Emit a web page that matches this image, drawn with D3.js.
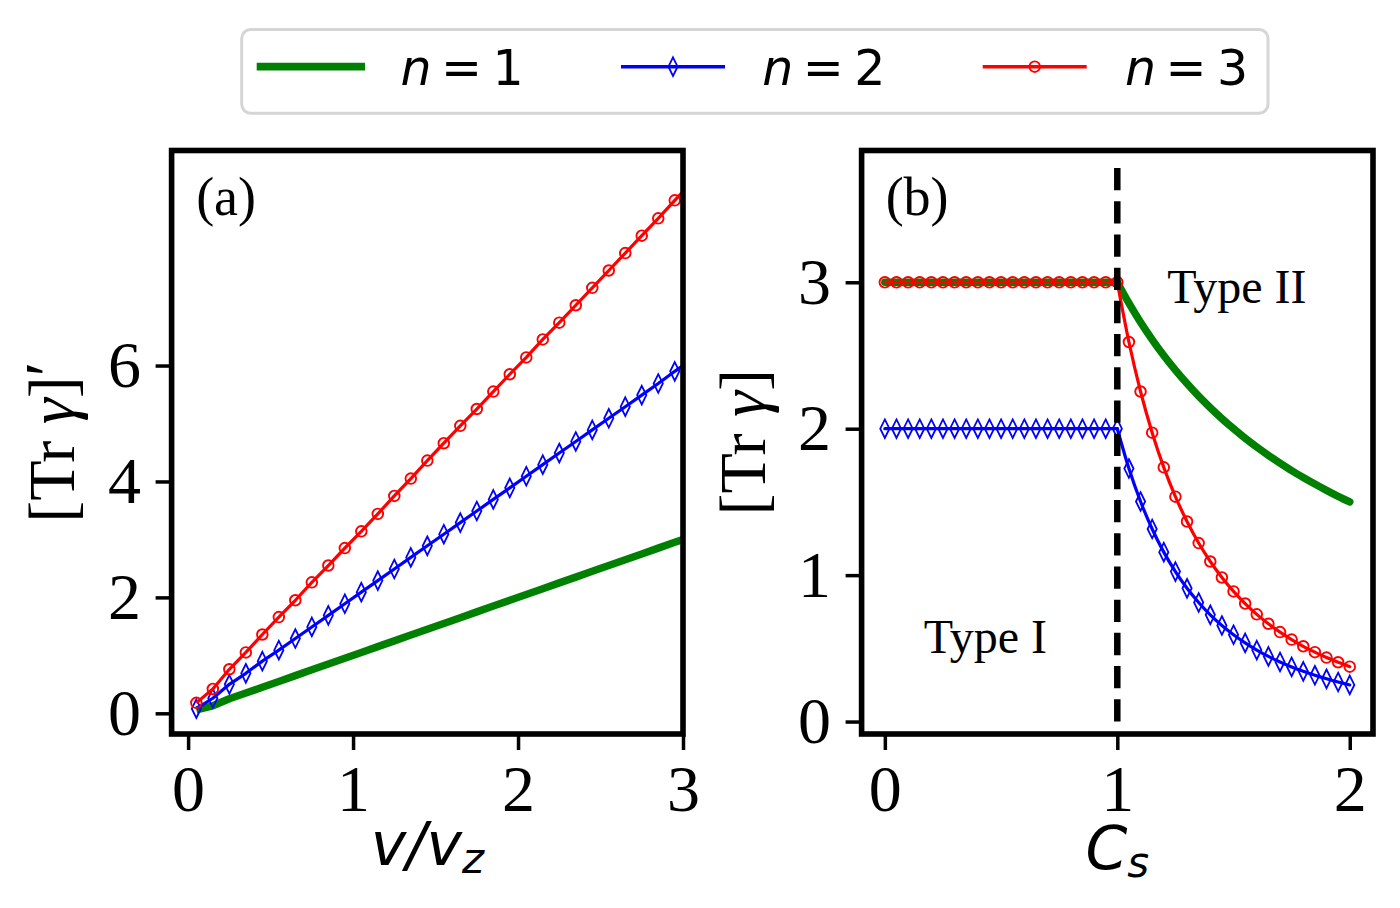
<!DOCTYPE html>
<html>
<head>
<meta charset="utf-8">
<script src="https://cdn.jsdelivr.net/npm/d3@7"></script>
<style>
  html, body { margin: 0; padding: 0; background: #ffffff; }
  svg { display: block; }
</style>
</head>
<body>
<svg id="chart" width="1400" height="908"></svg>
<script>
// ---------- data ----------
// panel (a): v/v_z (markers on all but the last point)
const vA = [0.05,0.15,0.25,0.35,0.45,0.55,0.65,0.75,0.85,0.95,1.05,1.15,1.25,1.35,1.45,1.55,1.65,1.75,1.85,1.95,2.05,2.15,2.25,2.35,2.45,2.55,2.65,2.75,2.85,2.95,3.0];
const greenA = [0.06,0.13,0.25,0.35,0.45,0.55,0.65,0.75,0.85,0.95,1.05,1.15,1.25,1.35,1.45,1.55,1.65,1.75,1.85,1.95,2.05,2.15,2.25,2.35,2.45,2.55,2.65,2.75,2.85,2.95,3.0];
const blueA  = [0.08,0.26,0.50,0.69,0.90,1.09,1.29,1.49,1.69,1.89,2.09,2.29,2.49,2.69,2.89,3.09,3.29,3.49,3.69,3.89,4.09,4.29,4.49,4.69,4.89,5.09,5.29,5.49,5.69,5.90,6.0];
const redA   = [0.18,0.42,0.76,1.05,1.36,1.66,1.95,2.26,2.55,2.85,3.14,3.44,3.75,4.05,4.36,4.66,4.96,5.25,5.55,5.85,6.14,6.45,6.74,7.04,7.34,7.64,7.94,8.24,8.54,8.85,9.0];

// panel (b): C_s
const csB = [0,0.05,0.1,0.15,0.2,0.25,0.3,0.35,0.4,0.45,0.5,0.55,0.6,0.65,0.7,0.75,0.8,0.85,0.9,0.95,1.0,
             1.05,1.1,1.15,1.2,1.25,1.3,1.35,1.4,1.45,1.5,1.55,1.6,1.65,1.7,1.75,1.8,1.85,1.9,1.95,2.0];
const greenB = [3,3,3,3,3,3,3,3,3,3,3,3,3,3,3,3,3,3,3,3,3,
                2.857,2.727,2.609,2.500,2.400,2.308,2.222,2.143,2.069,2.000,1.935,1.875,1.818,1.765,1.714,1.667,1.622,1.579,1.538,1.500];
const blueB  = [2,2,2,2,2,2,2,2,2,2,2,2,2,2,2,2,2,2,2,2,2,
                1.728,1.503,1.315,1.157,1.024,0.910,0.813,0.729,0.656,0.593,0.537,0.488,0.445,0.407,0.373,0.343,0.316,0.292,0.270,0.250];
const redB   = [3,3,3,3,3,3,3,3,3,3,3,3,3,3,3,3,3,3,3,3,3,
                2.592,2.254,1.973,1.736,1.536,1.366,1.219,1.093,0.984,0.889,0.806,0.732,0.668,0.611,0.560,0.514,0.474,0.437,0.405,0.375];
const transitionB = 1.0;
const vlineB = [[1, 3.78], [1, 0]];

const ticksAx = [0, 1, 2, 3];
const ticksAy = [0, 2, 4, 6];
const ticksBx = [0, 1, 2];
const ticksBy = [0, 1, 2, 3];

const legendLabels = ["1", "2", "3"];

// ---------- layout ----------
const svg = d3.select("#chart");
const GREEN = "#008000", BLUE = "#0000ff", RED = "#ff0000";
const serif = "'Liberation Serif', 'Times New Roman', serif";
const sans = "'DejaVu Sans', sans-serif";

const frameTop = 150.5, frameBot = 734;
const panelA = { x0: 171.6, x1: 683 };
const panelB = { x0: 861.6, x1: 1373 };

const xA = d3.scaleLinear().domain([-0.1, 3.0]).range([panelA.x0, panelA.x1]);
const yA = d3.scaleLinear().domain([-0.357, 9.71]).range([frameBot, frameTop]);
const xB = d3.scaleLinear().domain([-0.1, 2.1]).range([panelB.x0, panelB.x1]);
const yB = d3.scaleLinear().domain([-0.085, 3.9]).range([frameBot, frameTop]);

const defs = svg.append("defs");
function clip(id, p) {
  defs.append("clipPath").attr("id", id).append("rect")
    .attr("x", p.x0).attr("y", frameTop).attr("width", p.x1 - p.x0).attr("height", frameBot - frameTop);
}
clip("clipA", panelA); clip("clipB", panelB);

function diamondPath(cx, cy) {
  const h = 9.3, w = 4.6;
  return `M${cx},${cy - h}L${cx + w},${cy}L${cx},${cy + h}L${cx - w},${cy}Z`;
}

// split: optional x value where the curve has a corner (pieces are smoothed separately)
function drawSeries(g, xs, ys, x, y, opt) {
  const pts = xs.map((v, i) => [v, ys[i]]);
  const line = d3.line().x(d => x(d[0])).y(d => y(d[1]))
    .curve(opt.smooth ? d3.curveMonotoneX : d3.curveLinear);
  const pieces = (opt.split !== undefined)
    ? [pts.filter(d => d[0] <= opt.split), pts.filter(d => d[0] >= opt.split)]
    : [pts];
  const lg = g.append("g");
  pieces.forEach(pc => {
    lg.append("path").datum(pc).attr("d", line)
      .attr("fill", "none").attr("stroke", opt.color).attr("stroke-width", opt.width)
      .attr("stroke-linejoin", "round").attr("stroke-linecap", pieces.length > 1 ? "round" : "butt");
  });
  if (!opt.marker) return;
  const mpts = pts.filter((d, i) => i < opt.nMarkers);
  if (opt.marker === "circle") {
    g.selectAll(null).data(mpts).enter().append("circle")
      .attr("cx", d => x(d[0])).attr("cy", d => y(d[1])).attr("r", 5.3)
      .attr("fill", "none").attr("stroke", opt.color).attr("stroke-width", 1.9);
  } else {
    g.selectAll(null).data(mpts).enter().append("path")
      .attr("d", d => diamondPath(x(d[0]), y(d[1])))
      .attr("fill", "none").attr("stroke", opt.color).attr("stroke-width", 1.8)
      .attr("stroke-linejoin", "miter");
  }
}

function drawAxes(p, x, y, xt, yt) {
  const gx = svg.append("g").attr("transform", `translate(0,${frameBot})`)
    .call(d3.axisBottom(x).tickValues(xt).tickSize(16).tickPadding(14).tickFormat(d3.format("d")));
  const gy = svg.append("g").attr("transform", `translate(${p.x0},0)`)
    .call(d3.axisLeft(y).tickValues(yt).tickSize(16).tickPadding(14.5).tickFormat(d3.format("d")));
  [gx, gy].forEach(g => {
    g.select(".domain").remove();
    g.selectAll(".tick line").attr("stroke", "#000").attr("stroke-width", 3.5);
    g.selectAll(".tick text").attr("fill", "#000")
      .style("font-family", serif).style("font-size", "66px");
  });
}

function drawFrame(p) {
  svg.append("rect").attr("x", p.x0).attr("y", frameTop)
    .attr("width", p.x1 - p.x0).attr("height", frameBot - frameTop)
    .attr("fill", "none").attr("stroke", "#000").attr("stroke-width", 5.6);
}

// ---------- panel (a) ----------
const gA = svg.append("g").attr("clip-path", "url(#clipA)");
drawSeries(gA, vA, greenA, xA, yA, { color: GREEN, width: 7.5 });
drawSeries(gA, vA, blueA, xA, yA, { color: BLUE, width: 3.2, marker: "diamond", nMarkers: vA.length - 1 });
drawSeries(gA, vA, redA, xA, yA, { color: RED, width: 3.2, marker: "circle", nMarkers: vA.length - 1 });
drawAxes(panelA, xA, yA, ticksAx, ticksAy);
drawFrame(panelA);

svg.append("text").attr("x", panelA.x0 + 0.048 * (panelA.x1 - panelA.x0)).attr("y", 215)
  .style("font-family", serif).style("font-size", "54px").text("(a)");

// y label (a)
const ylA = svg.append("text").attr("transform", `translate(73.7,442.3) rotate(-90)`)
  .attr("text-anchor", "middle").style("font-family", serif).style("font-size", "66px");
ylA.append("tspan").text("[Tr ");
ylA.append("tspan").style("font-style", "italic").text("γ");
ylA.append("tspan").text("]");
ylA.append("tspan").attr("dy", "-4").text("′");

// x label (a)
const xlA = svg.append("text").attr("x", (panelA.x0 + panelA.x1) / 2).attr("y", 865)
  .attr("text-anchor", "middle").style("font-family", sans).style("font-style", "italic").style("font-size", "60px");
xlA.append("tspan").text("v/v");
xlA.append("tspan").attr("dy", 8).style("font-size", "42px").text("z");

// ---------- panel (b) ----------
const gB = svg.append("g").attr("clip-path", "url(#clipB)");
drawSeries(gB, csB, greenB, xB, yB, { color: GREEN, width: 7.5, smooth: true, split: transitionB });
drawSeries(gB, csB, blueB, xB, yB, { color: BLUE, width: 3.2, marker: "diamond", nMarkers: csB.length, smooth: true, split: transitionB });
drawSeries(gB, csB, redB, xB, yB, { color: RED, width: 3.2, marker: "circle", nMarkers: csB.length, smooth: true, split: transitionB });
gB.append("path").datum(vlineB)
  .attr("d", d3.line().x(d => xB(d[0])).y(d => yB(d[1])))
  .attr("fill", "none").attr("stroke", "#000").attr("stroke-width", 6.5)
  .attr("stroke-dasharray", "22.3,10.9");
drawAxes(panelB, xB, yB, ticksBx, ticksBy);
drawFrame(panelB);

svg.append("text").attr("x", panelB.x0 + 0.047 * (panelB.x1 - panelB.x0)).attr("y", 215)
  .style("font-family", serif).style("font-size", "54px").text("(b)");
svg.append("text").attr("x", xB(1.215)).attr("y", yB(2.86))
  .style("font-family", serif).style("font-size", "48px").text("Type II");
svg.append("text").attr("x", xB(0.167)).attr("y", yB(0.466))
  .style("font-family", serif).style("font-size", "48px").text("Type I");

const ylB = svg.append("text").attr("transform", `translate(765.4,442.3) rotate(-90)`)
  .attr("text-anchor", "middle").style("font-family", serif).style("font-size", "66px");
ylB.append("tspan").text("[Tr ");
ylB.append("tspan").style("font-style", "italic").text("γ");
ylB.append("tspan").text("]");

const xlB = svg.append("text").attr("x", (panelB.x0 + panelB.x1) / 2).attr("y", 869)
  .attr("text-anchor", "middle").style("font-family", sans).style("font-style", "italic").style("font-size", "60px");
xlB.append("tspan").text("C");
xlB.append("tspan").attr("dy", 8).style("font-size", "42px").text("s");

// ---------- legend ----------
const leg = svg.append("g");
leg.append("rect").attr("x", 241.7).attr("y", 29.5).attr("width", 1026.3).attr("height", 83.8)
  .attr("rx", 9).attr("fill", "#fff").attr("stroke", "#d5d5d5").attr("stroke-width", 3);
const legY = 66.7;
const entries = [
  { x0: 256.7, x1: 365, tx: 400.5, color: GREEN, width: 7.7, marker: null },
  { x0: 621, x1: 725, tx: 762.2, color: BLUE, width: 3.4, marker: "diamond" },
  { x0: 982.7, x1: 1086.7, tx: 1124.9, color: RED, width: 3.4, marker: "circle" }
];
entries.forEach((e, i) => {
  leg.append("line").attr("x1", e.x0).attr("x2", e.x1).attr("y1", legY).attr("y2", legY)
    .attr("stroke", e.color).attr("stroke-width", e.width);
  const cx = (e.x0 + e.x1) / 2;
  if (e.marker === "circle") {
    leg.append("circle").attr("cx", cx).attr("cy", legY).attr("r", 5.3)
      .attr("fill", "none").attr("stroke", e.color).attr("stroke-width", 1.9);
  } else if (e.marker === "diamond") {
    leg.append("path").attr("d", diamondPath(cx, legY))
      .attr("fill", "none").attr("stroke", e.color).attr("stroke-width", 1.8);
  }
  const t = leg.append("text").attr("y", 85).style("font-family", sans).style("font-size", "49px");
  t.append("tspan").attr("x", e.tx).style("font-style", "italic").text("n");
  t.append("tspan").attr("x", e.tx + 40.5).text("=");
  t.append("tspan").attr("x", e.tx + 92).text(legendLabels[i]);
});
</script>
</body>
</html>
